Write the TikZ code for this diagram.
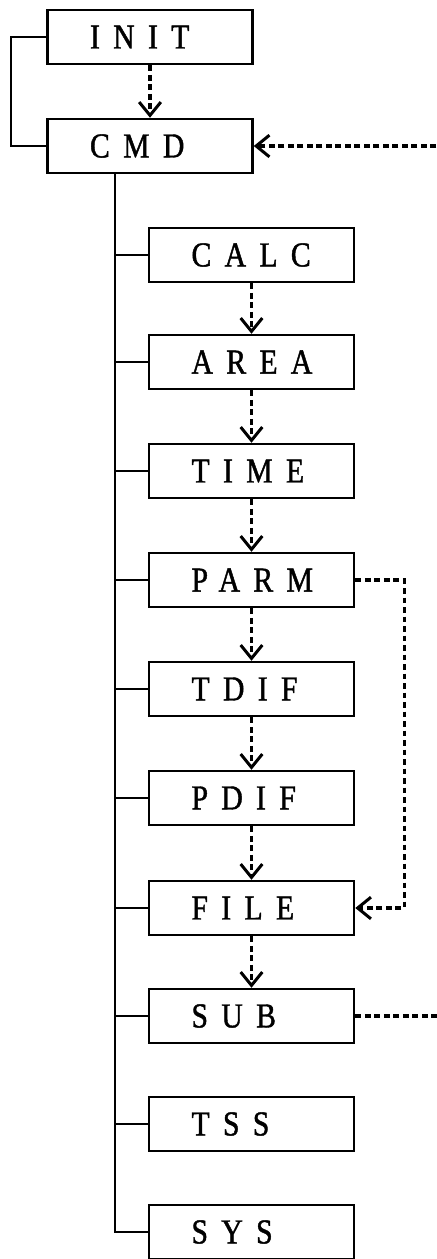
\documentclass[tikz,border=0pt]{standalone}
\usepackage{fontspec}
\usepackage{tikz}
\usetikzlibrary{arrows.meta}
\newfontfamily\boxfont{Liberation Serif}[FakeStretch=0.85,FakeBold=1.2,LetterSpace=38]

\begin{document}
\begin{tikzpicture}[x=0.6pt, y=-0.6pt,
	every node/.style={rectangle, draw=black, line width=1.5pt, minimum height=32.4pt, text width=72pt, inner xsep=25.5pt, inner ysep=0pt, align=left, font=\boxfont\fontsize{21}{21}\selectfont},
	flow/.style={draw=black, line width=2pt, dash pattern=on 3.5pt off 2.2pt, -{Straight Barb[length=8pt,width=13pt,line width=1.8pt]}}]
				\useasboundingbox (0,0) rectangle (436,1259);
				
				\node (init) at (150,37){INIT};
				\node (cmd) at (150,146){CMD};
				
				\node (calc) at (251.5,255){CALC};
				\node (area) at (251.5,362){AREA};
				\node (time) at (251.5,471){TIME};
				\node (parm) at (251.5,580){PARM};
				\node (tdif) at (251.5,689){TDIF};
				\node (pdif) at (251.5,798){PDIF};
				\node (file) at (251.5,908){FILE};
				\node (sub) at (251.5,1016){SUB};
				\node (tss) at (251.5,1124){TSS};
				\node (sys) at (251.5,1232){SYS};
				
				\draw[line width=1.4pt] (init.west) -- ++(-35,0) |- (cmd.west);
				\draw[line width=1.4pt] (cmd.south) ++(-35,0) coordinate (t) |- (sys.west);
				\foreach \n in {calc,area,time,parm,tdif,pdif,file,sub,tss}
					\draw[line width=1.4pt] (\n.west) -- (\n.west -| t);
				
				\foreach \a/\b in {init/cmd,calc/area,area/time,time/parm,parm/tdif,tdif/pdif,pdif/file,file/sub}
					\draw[flow] (\a) -- (\b);
				\draw[flow] (parm.east) -- ++(49,0) |- (file.east);
				\draw[flow] (sub.east) -- ++(90,0) |- (cmd.east);
				\end{tikzpicture}
\end{document}
